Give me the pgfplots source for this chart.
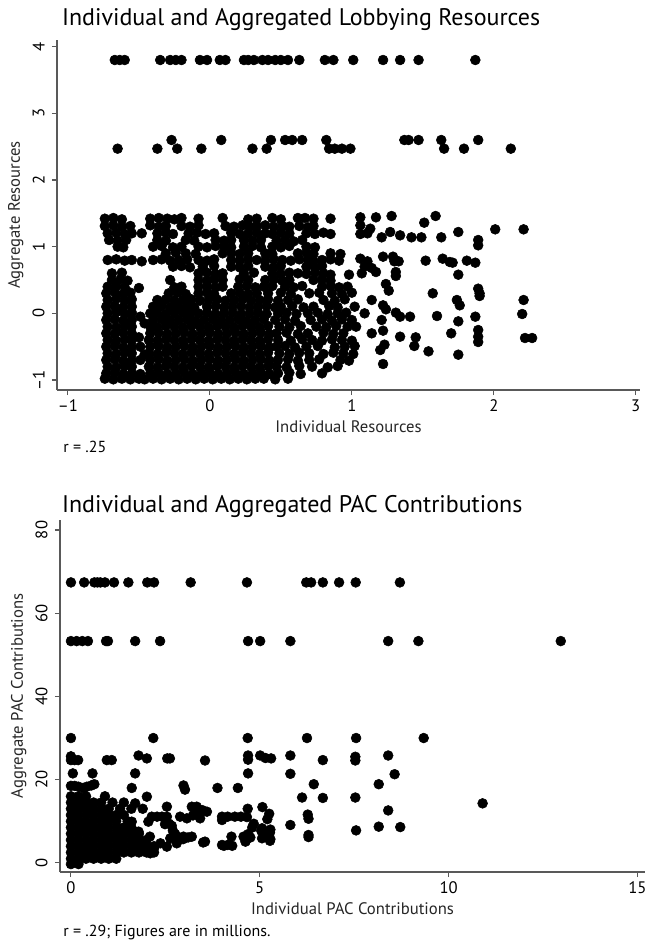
\documentclass[border=0pt]{standalone}
\usepackage{fontspec}
\setmainfont{PT Sans}
\usepackage{pgfplots}
\pgfplotsset{compat=1.18}

\pgfplotsset{
  statastyle/.style={
    scale only axis, anchor=south west, clip=false,
    axis x line*=bottom, axis y line*=left,
    axis line style={-, draw=black!65, line width=0.9pt},
    tick align=outside, major tick length=3.75pt,
    tick style={draw=black!65, line width=0.8pt},
    yticklabel style={rotate=90, anchor=south},
    yticklabel shift=2pt,
    ticklabel style={font=\fontsize{12.5}{14}\selectfont},
    label style={font=\fontsize{12.5}{14}\selectfont, text=black!85},
    /pgf/number format/assume math mode=true,
  },
  dots/.style={only marks, mark=*, mark size=3.7pt, mark options={draw=black, fill=black}},
}

\begin{document}
\begin{tikzpicture}
\useasboundingbox (0,0) rectangle (486pt,-705pt);

% ---------- top panel ----------
\node[anchor=west, font=\fontsize{18}{20}\selectfont] at (43pt,-15pt) {Individual and Aggregated Lobbying Resources};
\begin{axis}[statastyle,
  at={(42.75pt,-292.5pt)}, width=437.25pt, height=262.5pt,
  xmin=-1.077, xmax=3.03, ymin=-1.15, ymax=4.1,
  xtick={-1,0,1,2,3}, xticklabels={--1,0,1,2,3},
  ytick={-1,0,1,2,3,4}, yticklabels={--1,0,1,2,3,4},
  xlabel={Individual Resources}, ylabel={Aggregate Resources},
]
\addplot[dots] coordinates {
(-0.67,3.8)(-0.635,3.8)(-0.60,3.8)(-0.35,3.8)(-0.28,3.8)(-0.24,3.8)(-0.20,3.8)(-0.07,3.8)(-0.02,3.8)(0.07,3.8)(0.11,3.8)(0.24,3.8)(0.27,3.8)(0.31,3.8)(0.37,3.8)(0.41,3.8)(0.46,3.8)(0.50,3.8)(0.55,3.8)(0.63,3.8)(0.81,3.8)(0.87,3.8)(1.01,3.8)(1.22,3.8)(1.34,3.8)(1.47,3.8)(1.87,3.8)
(-0.27,2.6)(0.08,2.6)(0.43,2.6)(0.53,2.6)(0.58,2.6)(0.65,2.6)(0.82,2.6)(1.37,2.6)(1.40,2.6)(1.47,2.6)(1.63,2.6)(1.89,2.6)
(-0.65,2.47)(-0.37,2.47)(-0.23,2.47)(-0.06,2.47)(0.30,2.47)(0.40,2.47)(0.84,2.47)(0.88,2.47)(0.93,2.47)(0.99,2.47)(1.65,2.47)(1.79,2.47)(2.12,2.47)
(-0.74,1.42)(-0.68,1.43)(-0.62,1.41)(-0.42,1.42)(-0.36,1.43)(-0.30,1.42)(-0.25,1.41)(-0.20,1.43)(-0.08,1.42)(0.09,1.43)(0.27,1.41)(0.33,1.42)(0.44,1.43)(0.50,1.41)(0.62,1.43)(0.67,1.43)(0.73,1.42)(0.85,1.42)(1.06,1.44)(1.17,1.44)(1.28,1.46)(1.51,1.36)(1.59,1.46)
(-0.74,1.31)(-0.68,1.32)(-0.62,1.30)(-0.56,1.31)(-0.42,1.32)(-0.36,1.30)(-0.31,1.31)(-0.20,1.31)(-0.14,1.30)(-0.08,1.32)(0.11,1.31)(0.17,1.30)(0.23,1.32)(0.28,1.30)(0.33,1.31)(0.39,1.32)(0.45,1.30)(0.51,1.31)(0.56,1.30)(0.63,1.31)(0.69,1.29)(0.73,1.31)(1.06,1.32)(1.13,1.27)(1.27,1.22)(1.75,1.22)(2.01,1.26)(2.21,1.26)
(-0.72,1.20)(-0.66,1.21)(-0.60,1.19)(-0.55,1.20)(-0.48,1.20)(-0.37,1.20)(-0.31,1.21)(-0.26,1.19)(-0.15,1.20)(-0.09,1.21)(-0.03,1.19)(0.03,1.20)(0.15,1.21)(0.21,1.19)(0.27,1.20)(0.33,1.21)(0.39,1.20)(0.44,1.19)(0.50,1.21)(0.56,1.20)(0.68,1.20)(0.74,1.19)(0.80,1.21)(0.85,1.19)(1.06,1.19)(1.11,1.20)(1.21,1.14)(1.34,1.17)(1.42,1.14)(1.49,1.14)(1.63,1.14)
(-0.71,1.10)(-0.65,1.09)(-0.59,1.10)(-0.37,1.10)(-0.31,1.09)(-0.17,1.10)(-0.11,1.09)(0.04,1.10)(0.10,1.09)(0.15,1.10)(0.24,1.10)(0.30,1.09)(0.36,1.10)(0.47,1.09)(0.53,1.10)(0.59,1.08)(0.65,1.10)(1.89,1.10)
(-0.65,1.00)(-0.61,0.99)(-0.40,1.00)(-0.34,1.01)(-0.26,0.99)(-0.20,1.00)(-0.08,1.00)(-0.02,0.99)(0.04,1.01)(0.10,1.00)(0.15,0.99)(0.24,1.00)(0.30,1.01)(0.36,0.99)(0.44,1.00)(0.50,0.99)(0.56,1.01)(0.68,1.00)(0.74,0.99)(1.89,1.02)
(-0.31,0.90)(-0.24,0.91)(-0.17,0.90)(-0.10,0.89)(0.09,0.90)(0.15,0.91)(0.21,0.89)(0.27,0.90)(0.39,0.90)(0.44,0.89)(0.62,0.90)(0.68,0.91)(0.73,0.89)(0.85,0.90)(0.92,0.89)
(-0.72,0.80)(-0.66,0.81)(-0.60,0.79)(-0.55,0.80)(-0.48,0.78)(-0.40,0.80)(-0.34,0.81)(-0.28,0.79)(-0.22,0.80)(-0.16,0.81)(-0.08,0.80)(-0.02,0.79)(0.03,0.81)(0.15,0.80)(0.21,0.79)(0.27,0.81)(0.33,0.80)(0.39,0.79)(0.45,0.81)(0.51,0.80)(0.57,0.79)(0.63,0.81)(0.69,0.80)(0.73,0.78)(0.79,0.80)(0.85,0.81)(0.91,0.79)(1.06,0.82)(1.11,0.78)(1.22,0.85)(1.29,0.85)(1.30,0.78)(1.33,0.78)(1.52,0.79)(1.64,0.82)(1.69,0.77)(1.71,0.76)(1.81,0.79)(1.87,0.76)
(-0.26,0.70)(-0.20,0.71)(-0.14,0.69)(-0.05,0.70)(0.03,0.71)(0.15,0.70)(0.21,0.69)(0.27,0.71)(0.39,0.70)(0.45,0.69)(0.50,0.71)(0.68,0.70)(0.74,0.69)(0.79,0.71)(1.09,0.70)(1.14,0.68)
(-0.69,0.60)(-0.62,0.61)(-0.08,0.60)(-0.02,0.61)(0.04,0.59)(0.09,0.60)(0.24,0.60)(0.31,0.61)(0.44,0.60)(0.50,0.59)(0.56,0.61)(0.62,0.60)(0.68,0.59)(0.74,0.61)(0.80,0.60)(0.85,0.58)(0.98,0.58)(1.07,0.60)(1.17,0.62)(1.31,0.62)(1.31,0.56)(1.75,0.58)
(-0.69,0.50)(-0.63,0.51)(-0.58,0.49)(-0.28,0.50)(-0.08,0.50)(-0.02,0.49)(0.03,0.51)(0.09,0.50)(0.21,0.51)(0.27,0.50)(0.39,0.50)(0.45,0.51)(0.51,0.49)(0.56,0.50)(0.73,0.50)(0.79,0.51)(0.85,0.49)
(-0.72,0.40)(-0.66,0.41)(-0.60,0.39)(-0.50,0.38)(-0.25,0.39)(-0.20,0.40)(-0.08,0.40)(-0.02,0.41)(0.04,0.39)(0.09,0.40)(0.20,0.40)(0.26,0.41)(0.32,0.39)(0.38,0.40)(0.44,0.41)(0.53,0.40)(0.59,0.39)(0.65,0.41)(0.79,0.40)(0.85,0.41)(0.91,0.39)(0.97,0.40)(1.24,0.44)(1.26,0.34)(1.89,0.37)
(-0.73,0.30)(-0.67,0.32)(-0.61,0.29)(-0.56,0.31)(-0.29,0.30)(-0.23,0.31)(-0.17,0.29)(-0.08,0.30)(-0.02,0.31)(0.03,0.29)(0.15,0.30)(0.21,0.31)(0.27,0.29)(0.33,0.30)(0.41,0.30)(0.50,0.31)(0.57,0.29)(0.70,0.30)(0.77,0.31)(0.86,0.30)(0.93,0.29)(1.00,0.31)(1.57,0.30)(1.90,0.30)(1.90,0.26)
(-0.72,0.20)(-0.66,0.22)(-0.60,0.19)(-0.55,0.21)(-0.37,0.20)(-0.31,0.21)(-0.25,0.19)(-0.19,0.20)(-0.13,0.21)(-0.07,0.19)(-0.01,0.20)(0.05,0.21)(0.11,0.19)(0.17,0.20)(0.23,0.21)(0.29,0.19)(0.35,0.20)(0.41,0.21)(0.48,0.19)(0.55,0.20)(0.62,0.21)(0.80,0.20)(0.88,0.19)(0.95,0.21)(1.14,0.20)(1.74,0.20)(2.21,0.20)
(-0.73,0.10)(-0.67,0.11)(-0.61,0.09)(-0.55,0.10)(-0.40,0.10)(-0.34,0.11)(-0.28,0.09)(-0.22,0.10)(-0.16,0.11)(-0.11,0.09)(-0.02,0.10)(0.04,0.11)(0.10,0.09)(0.16,0.10)(0.22,0.11)(0.28,0.09)(0.34,0.10)(0.40,0.11)(0.46,0.09)(0.50,0.10)(0.58,0.11)(0.66,0.09)(0.73,0.10)(0.84,0.11)(0.90,0.09)(1.02,0.10)(1.22,0.12)(1.24,0.06)(1.31,0.01)(1.76,0.12)
(-0.72,0.00)(-0.66,0.02)(-0.60,-0.01)(-0.55,0.01)(-0.49,-0.05)(-0.42,0.00)(-0.37,0.01)(-0.31,-0.01)(-0.25,0.00)(-0.19,0.01)(-0.14,-0.01)(-0.08,0.00)(-0.02,0.01)(0.04,-0.01)(0.10,0.00)(0.16,0.01)(0.22,-0.01)(0.28,0.00)(0.34,0.01)(0.40,-0.01)(0.48,0.00)(0.54,0.01)(0.61,-0.01)(0.69,0.00)(0.76,0.01)(0.83,-0.01)(0.90,0.00)(0.96,0.01)(1.09,0.00)(1.34,-0.05)(1.41,-0.05)(1.60,-0.04)(1.87,-0.05)(2.20,-0.01)
(-0.73,-0.10)(-0.67,-0.09)(-0.61,-0.11)(-0.55,-0.10)(-0.40,-0.10)(-0.34,-0.09)(-0.28,-0.11)(-0.22,-0.10)(-0.16,-0.09)(-0.10,-0.11)(-0.04,-0.10)(0.02,-0.09)(0.08,-0.11)(0.14,-0.10)(0.20,-0.09)(0.26,-0.11)(0.32,-0.10)(0.38,-0.09)(0.46,-0.10)(0.53,-0.09)(0.60,-0.11)(0.71,-0.10)(0.79,-0.09)(0.86,-0.11)(0.93,-0.09)(1.00,-0.10)(1.21,-0.10)(1.75,-0.12)
(-0.72,-0.20)(-0.66,-0.21)(-0.60,-0.19)(-0.55,-0.20)(-0.46,-0.15)(-0.42,-0.20)(-0.37,-0.21)(-0.31,-0.19)(-0.25,-0.20)(-0.19,-0.21)(-0.13,-0.19)(-0.07,-0.20)(-0.01,-0.21)(0.05,-0.19)(0.11,-0.20)(0.17,-0.21)(0.23,-0.19)(0.29,-0.20)(0.35,-0.21)(0.41,-0.19)(0.49,-0.20)(0.56,-0.21)(0.64,-0.19)(0.75,-0.20)(0.82,-0.21)(0.89,-0.19)(0.97,-0.20)(1.03,-0.20)(1.22,-0.26)(1.70,-0.30)(1.89,-0.25)
(-0.73,-0.30)(-0.67,-0.31)(-0.61,-0.29)(-0.55,-0.30)(-0.50,-0.36)(-0.42,-0.30)(-0.36,-0.29)(-0.30,-0.31)(-0.24,-0.30)(-0.18,-0.29)(-0.12,-0.31)(-0.06,-0.30)(0.00,-0.29)(0.06,-0.31)(0.12,-0.30)(0.18,-0.29)(0.24,-0.31)(0.30,-0.30)(0.36,-0.29)(0.42,-0.31)(0.47,-0.30)(0.54,-0.29)(0.62,-0.31)(0.69,-0.30)(0.80,-0.29)(0.87,-0.31)(0.94,-0.30)(1.14,-0.30)(1.89,-0.35)
(-0.72,-0.40)(-0.66,-0.41)(-0.60,-0.39)(-0.55,-0.40)(-0.43,-0.40)(-0.37,-0.41)(-0.31,-0.39)(-0.25,-0.40)(-0.19,-0.41)(-0.13,-0.39)(-0.07,-0.40)(-0.01,-0.41)(0.05,-0.39)(0.11,-0.40)(0.17,-0.41)(0.23,-0.39)(0.29,-0.40)(0.35,-0.41)(0.41,-0.39)(0.48,-0.40)(0.57,-0.41)(0.65,-0.39)(0.72,-0.40)(0.79,-0.41)(0.86,-0.39)(0.93,-0.40)(1.00,-0.41)(1.34,-0.35)(1.45,-0.36)(1.89,-0.43)(2.22,-0.37)(2.27,-0.37)
(-0.73,-0.50)(-0.67,-0.49)(-0.61,-0.51)(-0.55,-0.50)(-0.49,-0.50)(-0.42,-0.50)(-0.36,-0.49)(-0.30,-0.51)(-0.24,-0.50)(-0.18,-0.49)(-0.12,-0.51)(-0.06,-0.50)(0.00,-0.49)(0.06,-0.51)(0.12,-0.50)(0.18,-0.49)(0.24,-0.51)(0.30,-0.50)(0.36,-0.49)(0.42,-0.51)(0.47,-0.50)(0.53,-0.49)(0.60,-0.51)(0.68,-0.50)(0.76,-0.49)(0.88,-0.51)(0.95,-0.50)(1.02,-0.49)(1.23,-0.47)(1.44,-0.49)(1.54,-0.57)
(-0.72,-0.60)(-0.66,-0.61)(-0.60,-0.59)(-0.55,-0.60)(-0.46,-0.62)(-0.43,-0.60)(-0.37,-0.61)(-0.31,-0.59)(-0.25,-0.60)(-0.19,-0.61)(-0.13,-0.59)(-0.07,-0.60)(-0.01,-0.61)(0.05,-0.59)(0.11,-0.60)(0.17,-0.61)(0.23,-0.59)(0.29,-0.60)(0.35,-0.61)(0.41,-0.59)(0.49,-0.60)(0.56,-0.61)(0.63,-0.59)(0.70,-0.60)(0.80,-0.61)(0.87,-0.59)(0.94,-0.60)(1.01,-0.61)(1.20,-0.55)(1.75,-0.62)
(-0.73,-0.70)(-0.67,-0.69)(-0.61,-0.71)(-0.55,-0.70)(-0.49,-0.70)(-0.42,-0.70)(-0.36,-0.69)(-0.30,-0.71)(-0.24,-0.70)(-0.18,-0.69)(-0.12,-0.71)(-0.06,-0.70)(0.00,-0.69)(0.06,-0.71)(0.12,-0.70)(0.18,-0.69)(0.24,-0.71)(0.30,-0.70)(0.36,-0.69)(0.42,-0.71)(0.48,-0.70)(0.55,-0.69)(0.62,-0.71)(0.70,-0.70)(0.77,-0.69)(0.92,-0.70)(0.98,-0.71)
(-0.72,-0.80)(-0.66,-0.81)(-0.60,-0.79)(-0.55,-0.80)(-0.43,-0.80)(-0.37,-0.81)(-0.31,-0.79)(-0.25,-0.80)(-0.19,-0.81)(-0.13,-0.79)(-0.07,-0.80)(-0.01,-0.81)(0.05,-0.79)(0.11,-0.80)(0.17,-0.81)(0.23,-0.79)(0.29,-0.80)(0.35,-0.81)(0.41,-0.79)(0.47,-0.80)(0.54,-0.81)(0.63,-0.79)(0.72,-0.80)(0.83,-0.81)(0.90,-0.79)(1.22,-0.76)
(-0.73,-0.90)(-0.67,-0.89)(-0.61,-0.91)(-0.55,-0.90)(-0.49,-0.91)(-0.42,-0.90)(-0.36,-0.89)(-0.30,-0.91)(-0.24,-0.90)(-0.18,-0.89)(-0.12,-0.91)(-0.06,-0.90)(0.00,-0.89)(0.06,-0.91)(0.12,-0.90)(0.18,-0.89)(0.24,-0.91)(0.30,-0.90)(0.36,-0.89)(0.42,-0.91)(0.48,-0.90)(0.56,-0.89)(0.64,-0.91)(0.79,-0.90)
(-0.74,-0.98)(-0.68,-0.99)(-0.62,-0.98)(-0.56,-0.99)(-0.50,-0.98)(-0.46,-0.99)(-0.40,-0.98)(-0.34,-0.99)(-0.28,-0.98)(-0.22,-0.99)(-0.16,-0.98)(-0.10,-0.99)(-0.04,-0.98)(0.02,-0.99)(0.08,-0.98)(0.14,-0.99)(0.20,-0.98)(0.26,-0.99)(0.32,-0.98)(0.38,-0.98)(0.46,-0.99)(0.55,-0.98)
};
\end{axis}
\node[anchor=west, font=\fontsize{12}{14}\selectfont] at (44pt,-335pt) {r = .25};

% ---------- bottom panel ----------
\node[anchor=west, font=\fontsize{18}{20}\selectfont] at (43pt,-380pt) {Individual and Aggregated PAC Contributions};
\begin{axis}[statastyle,
  at={(45pt,-654pt)}, width=438.75pt, height=264pt,
  xmin=-0.29, xmax=15.2, ymin=-2.2, ymax=82.4,
  xtick={0,5,10,15}, ytick={0,20,40,60,80},
  xlabel={Individual PAC Contributions}, ylabel={Aggregate PAC Contributions},
]
\addplot[dots] coordinates {
(0.0,67.4)(0.35,67.4)(0.62,67.4)(0.70,67.4)(0.78,67.4)(0.90,67.4)(1.14,67.4)(1.52,67.4)(2.02,67.4)(2.20,67.4)(3.17,67.4)(4.66,67.4)(6.23,67.4)(6.36,67.4)(6.67,67.4)(7.10,67.4)(7.54,67.4)(8.71,67.4)
(0.0,53.3)(0.15,53.3)(0.30,53.3)(0.45,53.3)(0.93,53.3)(0.98,53.3)(1.70,53.3)(2.36,53.3)(4.69,53.3)(5.01,53.3)(5.81,53.3)(8.40,53.3)(9.20,53.3)(12.97,53.3)
(0.0,30.0)(2.18,30.0)(4.68,30.0)(6.25,30.0)(7.55,30.0)(9.34,30.0)
(0.0,25.6)(0.0,24.7)(0.1,24.7)(0.19,24.7)(0.95,24.7)(1.08,24.7)(1.79,25.8)(2.01,25.1)(2.55,25.1)(2.62,25.1)(3.55,24.6)(4.69,25.8)(4.69,24.8)(5.01,25.8)(5.15,25.2)(5.30,25.1)(5.81,25.8)(6.67,24.7)(7.53,25.5)(7.53,24.6)(8.40,25.8)
(0.05,21.5)(0.57,21.5)(1.70,21.5)(4.69,21.5)(5.81,21.4)(8.57,21.3)
(0.0,18.5)(0.1,18.5)(0.2,18.3)(0.32,18.0)(0.42,18.3)(0.54,18.6)(0.62,18.9)(1.61,18.0)(2.98,18.6)(3.02,17.6)(3.88,18.0)(4.42,18.0)(6.43,18.9)(8.15,18.9)
(2.01,15.9)(6.12,15.7)(6.67,15.6)(7.53,15.7)
(1.70,14.3)(2.54,13.5)(3.20,13.5)(3.33,13.5)(3.47,12.7)(3.60,12.3)(4.68,13.0)(5.07,13.4)(8.40,12.6)(10.90,14.3)
(2.14,11.1)(2.28,11.1)(2.41,11.1)(2.54,11.1)(2.89,11.1)(3.07,10.7)(3.42,10.7)(4.00,11.1)(4.15,11.1)(4.34,11.1)(4.50,11.1)(4.66,11.0)(4.00,10.3)(5.25,11.8)(5.20,10.5)(6.27,11.6)(6.29,10.6)(3.23,11.4)(3.30,12.4)
(2.49,9.3)(2.67,8.9)(1.61,9.9)(2.05,9.9)(4.84,9.4)(4.80,8.5)(5.06,8.3)(5.28,8.0)(5.81,9.1)(8.15,8.7)(8.72,8.6)(2.60,9.4)
(1.70,7.5)(1.79,7.5)(2.70,7.7)(7.55,7.8)(6.29,6.7)(6.29,6.2)(5.04,7.7)(5.13,6.9)(5.27,7.3)(4.69,6.9)(4.25,6.3)(4.57,6.3)(2.98,6.3)(3.20,6.3)(2.09,6.3)(2.76,6.9)(2.86,6.1)(3.10,6.1)
(2.63,5.9)(2.80,4.7)(2.97,5.7)(3.55,5.1)(3.50,4.9)(4.62,5.1)(4.75,6.1)(5.06,5.9)(5.28,5.7)(5.27,5.3)(4.63,5.3)(4.00,4.3)(4.15,4.3)(4.05,4.1)(4.27,4.1)
(2.20,3.5)(2.37,4.7)(2.54,3.9)(1.83,3.9)(1.96,3.1)(2.10,2.3)
(0.0,16.0)(0.2,16.0)(0.4,16.0)(0.9,16.0)
(0.0,14.5)(0.2,14.5)(0.4,14.5)(0.6,14.5)(0.8,14.5)(1.1,14.5)(1.4,14.5)
(0.0,13.0)(0.2,13.0)(0.4,13.0)(0.6,13.0)(0.8,13.0)(1.0,13.0)(1.3,13.0)(1.6,13.0)(1.9,13.0)
(0.0,11.5)(0.2,11.5)(0.4,11.5)(0.6,11.5)(0.8,11.5)(1.0,11.5)(1.2,11.5)(1.4,11.5)
(0.0,10.0)(0.2,10.0)(0.4,10.0)(0.6,10.0)(0.8,10.0)(1.0,10.0)(1.2,10.0)(1.5,10.0)
(0.0,8.5)(0.2,8.5)(0.4,8.5)(0.6,8.5)(0.8,8.5)(1.0,8.5)(1.2,8.5)(1.4,8.5)(1.6,8.5)
(0.0,7.0)(0.2,7.0)(0.4,7.0)(0.6,7.0)(0.8,7.0)(1.0,7.0)(1.2,7.0)(1.4,7.0)(1.6,7.0)(1.8,7.0)
(0.0,5.5)(0.2,5.5)(0.4,5.5)(0.6,5.5)(0.8,5.5)(1.0,5.5)(1.2,5.5)(1.4,5.5)(1.6,5.5)(1.8,5.5)(2.0,5.5)
(0.0,4.0)(0.2,4.0)(0.4,4.0)(0.6,4.0)(0.8,4.0)(1.0,4.0)(1.2,4.0)(1.4,4.0)(1.6,4.0)(1.8,4.0)(2.0,4.0)(2.2,4.0)
(0.0,2.5)(0.2,2.5)(0.4,2.5)(0.6,2.5)(0.8,2.5)(1.0,2.5)(1.2,2.5)(1.4,2.5)(1.6,2.5)(1.8,2.5)(2.0,2.5)(2.2,2.5)
(0.0,1.0)(0.2,1.0)(0.4,1.0)(0.6,1.0)(0.8,1.0)(1.0,1.0)(1.2,1.0)
(0.0,-0.3)(0.2,-0.3)
};
\end{axis}
\node[anchor=west, font=\fontsize{12}{14}\selectfont] at (44pt,-699pt) {r = .29; Figures are in millions.};
\end{tikzpicture}
\end{document}
